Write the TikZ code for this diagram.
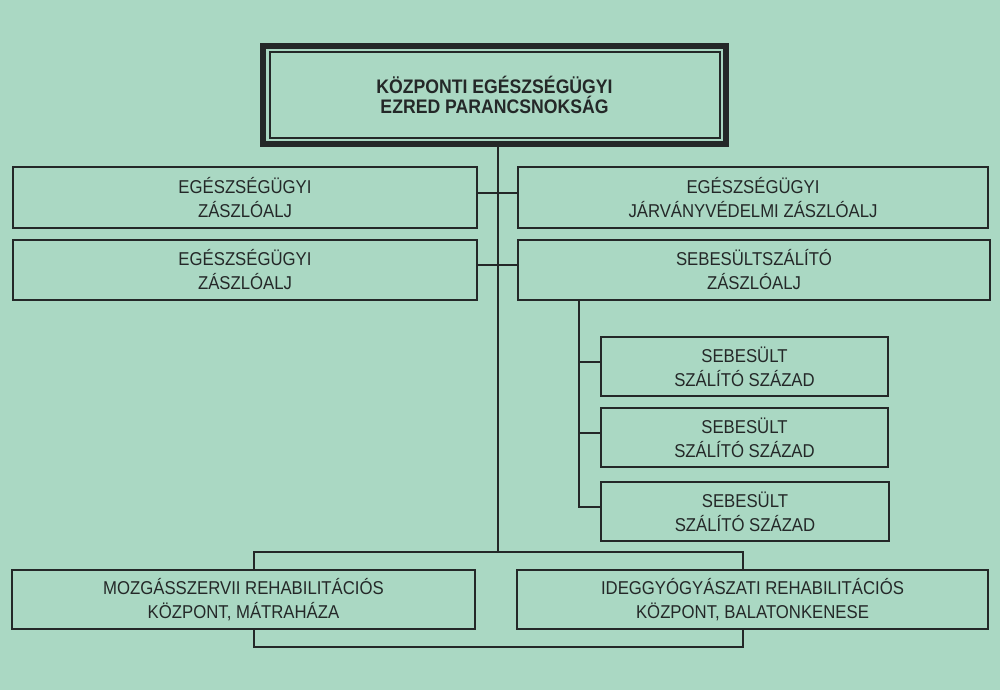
\documentclass[tikz,border=0pt]{standalone}
\usepackage{fontspec}
\setmainfont{Liberation Sans}[FakeStretch=0.9]
\usetikzlibrary{backgrounds}
\definecolor{paper}{RGB}{170,216,195}
\definecolor{ink}{RGB}{36,40,40}
\begin{document}
\begin{tikzpicture}[x=1pt,y=-1pt,
  unit/.style={draw=ink, line width=2pt, fill=paper, text=ink, inner sep=0pt,
    outer sep=0pt, align=center, font=\fontsize{18.6}{24}\selectfont},
  chief/.style={unit, line width=6pt, font=\bfseries\fontsize{19.6}{20.5}\selectfont},
  link/.style={draw=ink, line width=2pt}]

% headquarters
\node[chief, minimum width=463pt, minimum height=98pt] (top) at (494.5,95)
  {KÖZPONTI EGÉSZSÉGÜGYI\\EZRED PARANCSNOKSÁG};
\draw[link] ([shift={(6.5,6.5)}]top.north west) rectangle ([shift={(-6.5,-6.5)}]top.south east);

% battalions
\node[unit, minimum width=464pt, minimum height=61pt] (A1) at (245,197.8)
  {EGÉSZSÉGÜGYI\\ZÁSZLÓALJ};
\node[unit, minimum width=470pt, minimum height=61pt] (B1) at (753,197.8)
  {EGÉSZSÉGÜGYI\\JÁRVÁNYVÉDELMI ZÁSZLÓALJ};
\node[unit, minimum width=464pt, minimum height=60pt] (A2) at (245,270)
  {EGÉSZSÉGÜGYI\\ZÁSZLÓALJ};
\node[unit, minimum width=472pt, minimum height=60pt] (B2) at (754,270)
  {SEBESÜLTSZÁLÍTÓ\\ZÁSZLÓALJ};

% companies
\node[unit, minimum width=287pt, minimum height=59pt] (C1) at (744.5,366.5)
  {SEBESÜLT\\SZÁLÍTÓ SZÁZAD};
\node[unit, minimum width=287pt, minimum height=59pt] (C2) at (744.5,437.5)
  {SEBESÜLT\\SZÁLÍTÓ SZÁZAD};
\node[unit, minimum width=288pt, minimum height=59pt] (C3) at (745,511.5)
  {SEBESÜLT\\SZÁLÍTÓ SZÁZAD};

% rehabilitation centres
\node[unit, minimum width=463pt, minimum height=59pt] (D1) at (243.5,599.5)
  {MOZGÁSSZERVII REHABILITÁCIÓS\\KÖZPONT, MÁTRAHÁZA};
\node[unit, minimum width=471pt, minimum height=59pt] (D2) at (752.5,599.5)
  {IDEGGYÓGYÁSZATI REHABILITÁCIÓS\\KÖZPONT, BALATONKENESE};

% bracket behind the two centres
\coordinate (brnw) at (254,552);
\coordinate (brse) at (743,647);
\coordinate (trunk) at (498,552);
\coordinate (spine) at (579,0);

\begin{scope}[on background layer]
  \fill[paper] (0,0) rectangle (1000,690);
  \draw[link] (brnw) rectangle (brse);
\end{scope}

% trunk and branches
\draw[link] (top.south -| trunk) -- (trunk);
\draw[link] ([yshift=5pt]A1.east) -- ([yshift=5pt]B1.west);
\draw[link] ([yshift=5pt]A2.east) -- ([yshift=5pt]B2.west);
\draw[link] (B2.south -| spine) |- ([yshift=5pt]C3.west);
\draw[link] ([yshift=5pt]C1.west) -- ([yshift=5pt]C1.west -| spine);
\draw[link] ([yshift=5pt]C2.west) -- ([yshift=5pt]C2.west -| spine);
\end{tikzpicture}
\end{document}
